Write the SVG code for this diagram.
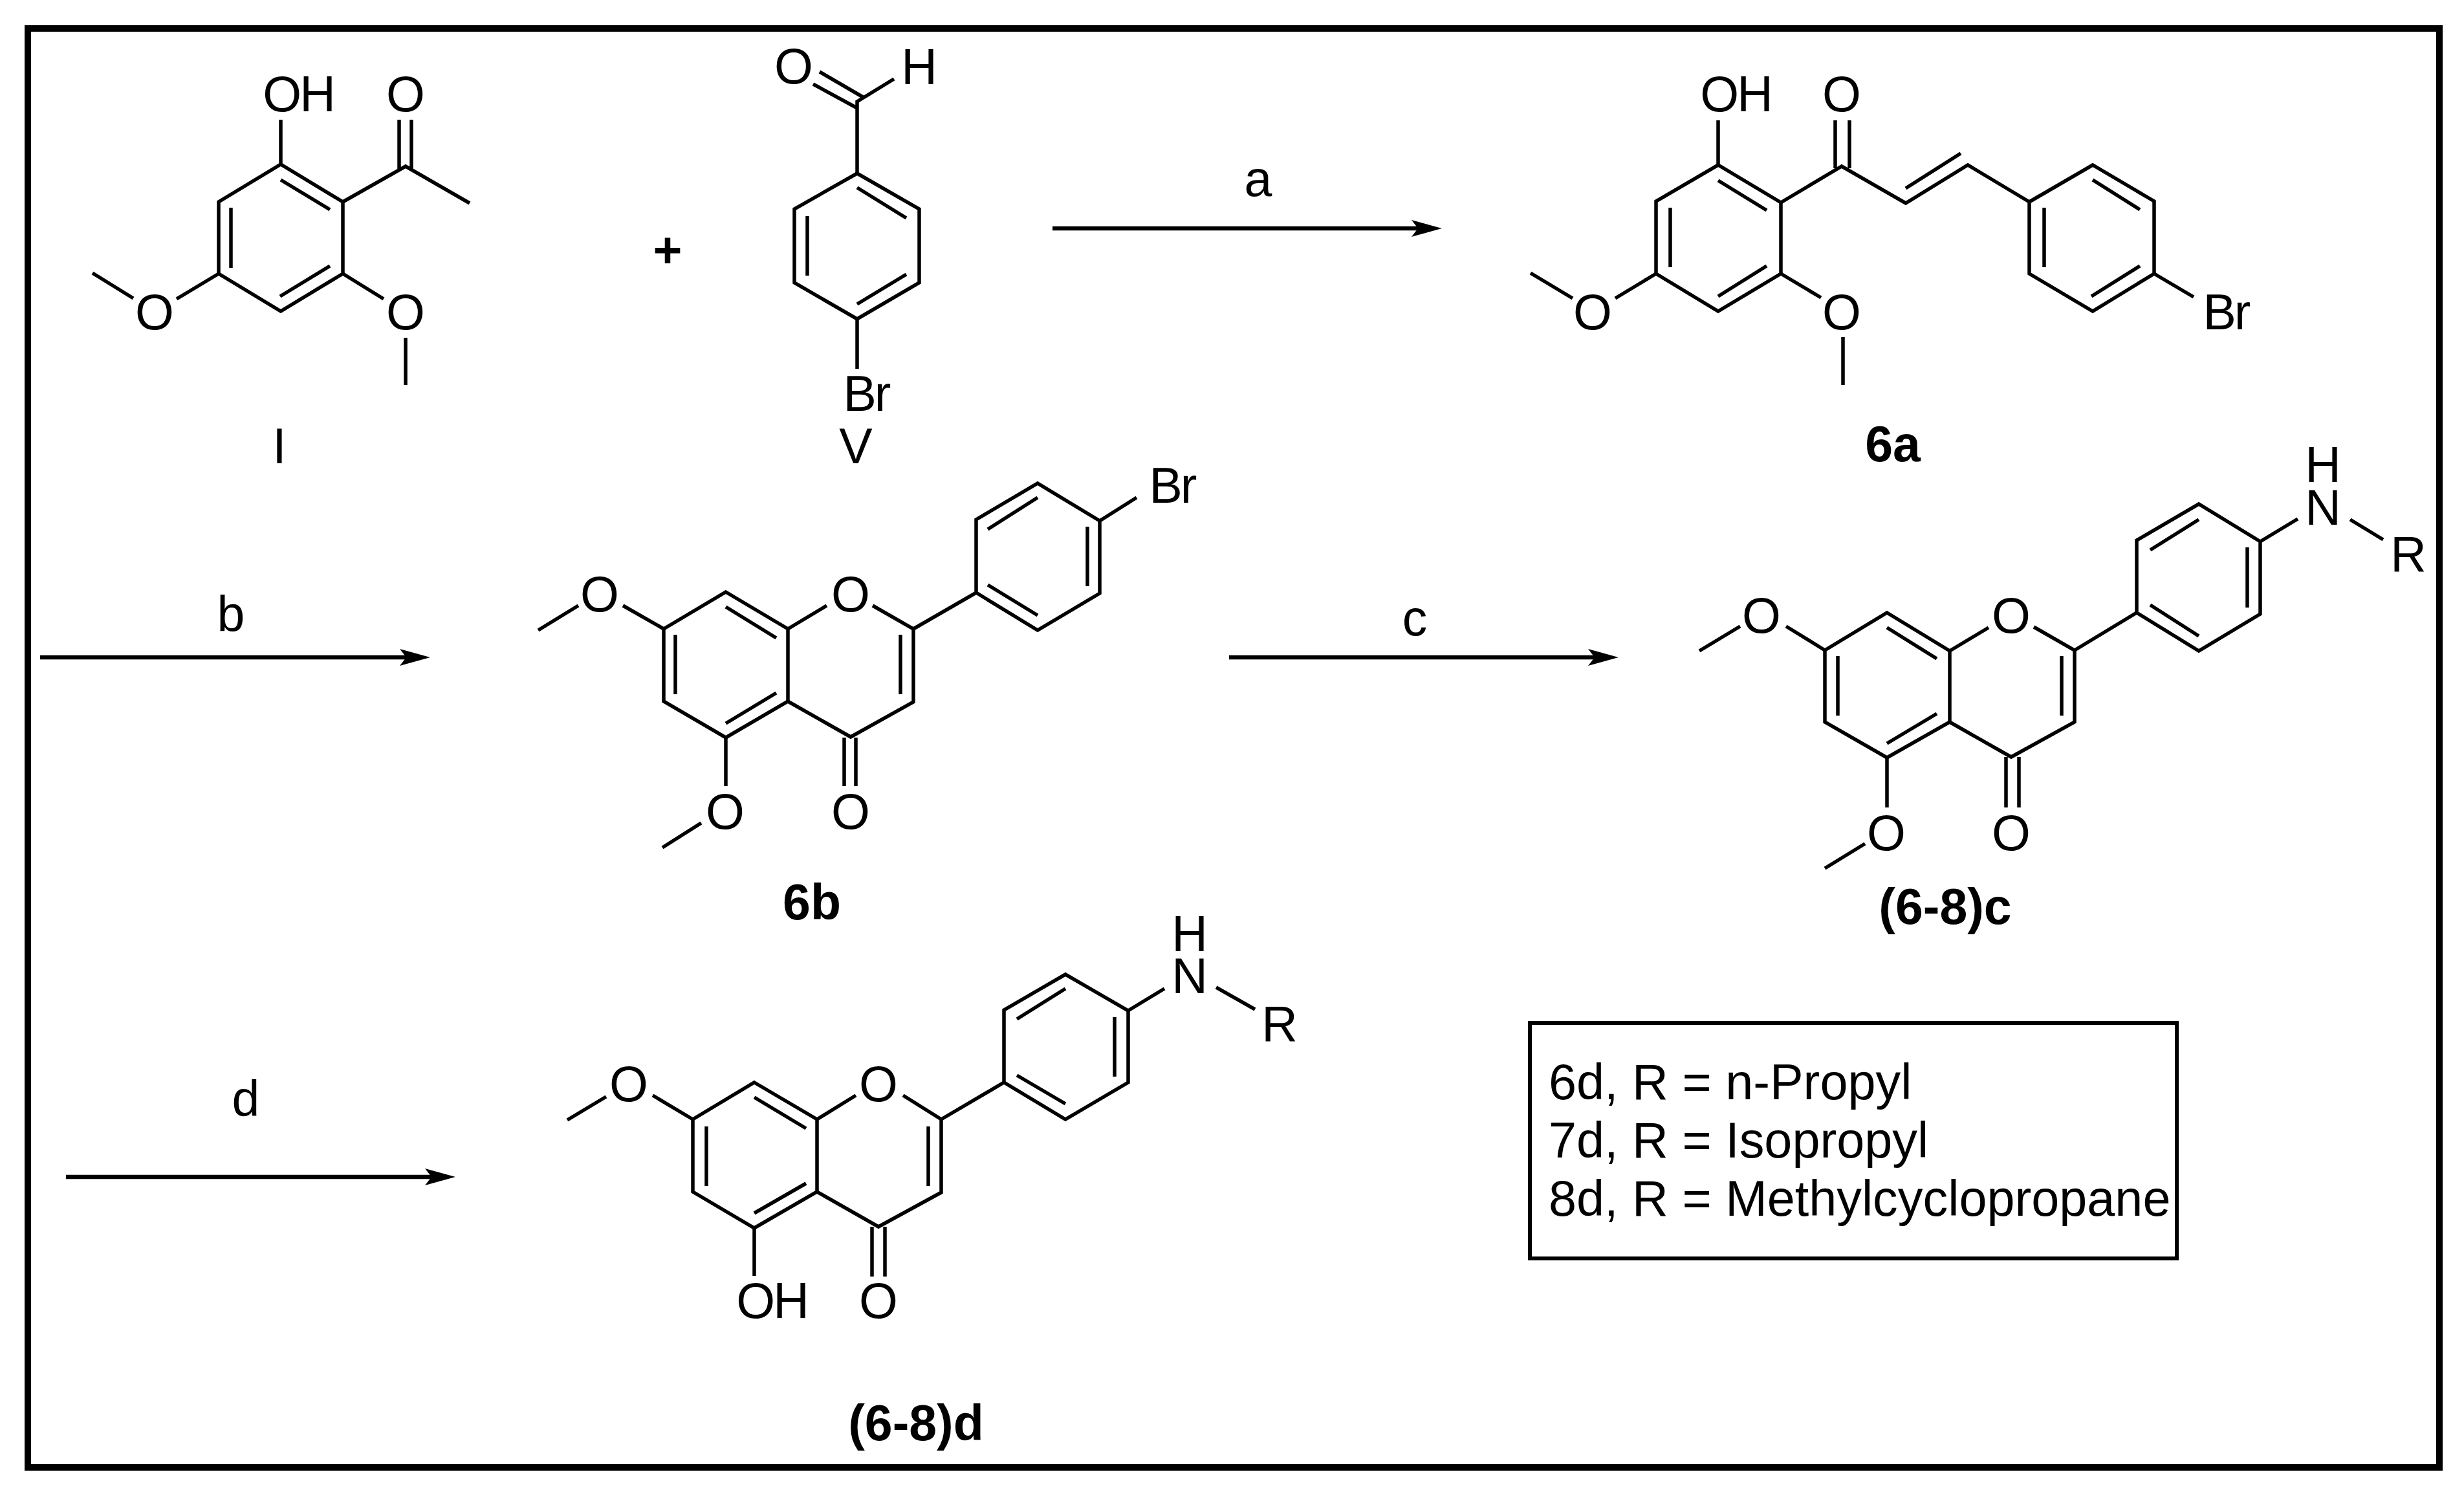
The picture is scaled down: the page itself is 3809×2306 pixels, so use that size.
<svg xmlns="http://www.w3.org/2000/svg" width="3809" height="2306" viewBox="0 0 3809 2306">
<style>
text{font-family:"Liberation Sans",Arial,sans-serif;font-size:77px;fill:#000;text-anchor:middle}
.s{text-anchor:start;font-size:77.4px}
.b{font-weight:700}
.n{letter-spacing:-3px}
.m path{fill:none;stroke:#000;stroke-width:5.5;stroke-linejoin:miter;stroke-linecap:butt}
.arrow{stroke:#000;stroke-width:6.5;fill:none;marker-end:url(#head)}
</style>
<defs>
<marker id="head" markerUnits="userSpaceOnUse" markerWidth="47" markerHeight="26" viewBox="0 0 47 26" refX="10" refY="13" orient="auto"><path d="M47 13L0 0L10 13L0 26Z" fill="#000"/></marker>
</defs>
<rect width="3809" height="2306" fill="#fff"/>
<rect id="frame" x="43" y="44" width="3728" height="2224" fill="none" stroke="#000" stroke-width="10"/>

<g id="connectors">
<line class="arrow" x1="1627" y1="353" x2="2192" y2="353"/>
<line class="arrow" x1="62" y1="1016" x2="628" y2="1016"/>
<line class="arrow" x1="1900" y1="1016" x2="2465" y2="1016"/>
<line class="arrow" x1="102" y1="1819" x2="667" y2="1819"/>
</g>
<g id="reagent-labels">
<text x="1945" y="303">a</text>
<text x="357" y="976">b</text>
<text x="2187" y="982">c</text>
<text x="380" y="1725">d</text>
<text class="b" x="1032" y="413">+</text>
</g>

<g id="mol-I" class="m">
<path d="M434 254L530 312V423L434 481L338 423V312Z"/>
<path d="M434 278L510 324M357 321V414M433 458L510 411"/>
<path d="M434 254V185M530 312L627 257L726 314M617 262V185M636 262V185"/>
<path d="M338 423L273 462M206 461L143 422M530 423L593 462M627 522V595"/>
<text class="n" x="461" y="172">OH</text><text x="627" y="172">O</text>
<text x="239" y="509">O</text><text x="627" y="509">O</text>
<text x="432" y="716">I</text>
</g>

<g id="mol-V" class="m">
<path d="M1325 268L1421 323V437L1325 493L1228 437V323Z"/>
<path d="M1325 290L1401 337M1248 334V426M1401 424L1325 470"/>
<path d="M1325 268V157L1382 122M1325 167L1257 130M1334 150L1267 111M1325 493V570"/>
<text x="1227" y="129">O</text><text x="1421" y="130">H</text>
<text class="n" x="1339" y="635">Br</text>
<text x="1323" y="716">V</text>
</g>

<g id="mol-6a" class="m">
<path d="M2656 255L2753 313V423L2656 481L2560 423V311Z"/>
<path d="M2656 279L2731 325M2582 321V413M2656 458L2731 411"/>
<path d="M2656 255V186M2753 313L2847 257L2946 314L3042 255L3137 312M2837 260V186M2859 260V186M2946 291L3031 237"/>
<path d="M3137 312L3235 255L3330 311V423L3235 481L3137 423Z"/>
<path d="M3235 278L3308 324M3160 321V413M3233 458L3308 411"/>
<path d="M3330 423L3391 459M2560 423L2497 461M2431 461L2366 422M2753 423L2815 460M2849 521V595"/>
<text class="n" x="2683" y="172">OH</text><text x="2847" y="172">O</text>
<text x="2462" y="509">O</text><text x="2847" y="509">O</text>
<text class="n" x="3441" y="509">Br</text>
<text class="b" x="2926" y="713">6a</text>
</g>

<g id="mol-6b" class="m">
<path d="M1122 915L1218 972V1084L1122 1140L1026 1084V972Z"/>
<path d="M1122 938L1200 986M1044 981V1073M1122 1118L1200 1071"/>
<path d="M1218 972L1278 936M1349 936L1412 972V1085L1315 1139L1218 1084M1392 981V1073"/>
<path d="M1412 972L1509 916L1604 974L1700 917V805L1604 747L1509 803V916"/>
<path d="M1527 904L1604 951M1681 814V906M1604 769L1527 818"/>
<path d="M1700 805L1757 769M1026 972L963 936M894 936L832 974M1122 1140V1215M1084 1272L1024 1310M1305 1140V1215M1323 1140V1215"/>
<text x="1315" y="945">O</text><text x="927" y="945">O</text>
<text x="1315" y="1281">O</text><text x="1121" y="1281">O</text>
<text class="n" x="1812" y="777">Br</text>
<text class="b" x="1255" y="1421">6b</text>
</g>

<g id="mol-6-8c" class="m">
<path d="M2917 947L3014 1006V1116L2917 1171L2821 1116V1005Z"/>
<path d="M2917 970L2994 1018M2841 1014V1106M2917 1149L2994 1103"/>
<path d="M3014 1006L3074 970M3144 969L3207 1005V1116L3109 1170L3014 1116M3187 1014V1106"/>
<path d="M3207 1005L3303 947L3399 1006L3494 949V837L3399 779L3303 835V947"/>
<path d="M3324 935L3399 983M3474 846V939M3399 803L3324 850"/>
<path d="M3494 837L3552 802M3633 803L3684 834M2821 1005L2761 968M2690 968L2627 1006M2917 1171V1248M2883 1304L2821 1342M3101 1170V1248M3121 1170V1248"/>
<text x="3109" y="978">O</text><text x="2723" y="978">O</text>
<text x="3109" y="1314">O</text><text x="2916" y="1314">O</text>
<text><tspan x="3591" y="745">H</tspan><tspan x="3591" y="811">N</tspan></text><text x="3723" y="883">R</text>
<text class="b" x="3007" y="1428">(6-8)c</text>
</g>

<g id="mol-6-8d" class="m">
<path d="M1166 1673L1263 1730V1842L1166 1898L1071 1842V1730Z"/>
<path d="M1166 1696L1246 1744M1092 1741V1833M1166 1875L1246 1829"/>
<path d="M1263 1730L1323 1693M1396 1693L1455 1730V1843L1358 1896L1263 1842M1435 1741V1833"/>
<path d="M1455 1730L1552 1673L1647 1730L1744 1673V1562L1647 1506L1552 1561V1673"/>
<path d="M1572 1662L1647 1706M1723 1572V1664M1647 1528L1572 1575"/>
<path d="M1744 1562L1800 1528M1880 1526L1940 1560M1071 1730L1009 1693M937 1695L877 1731M1166 1898V1972M1348 1896V1973M1368 1896V1973"/>
<text x="1358" y="1702">O</text><text x="972" y="1702">O</text>
<text x="1358" y="2037">O</text><text class="n" x="1193" y="2037">OH</text>
<text><tspan x="1839" y="1470">H</tspan><tspan x="1839" y="1535">N</tspan></text><text x="1978" y="1609">R</text>
<text class="b" x="1416" y="2226">(6-8)d</text>
</g>

<g id="legend">
<rect x="2365" y="1581" width="1000" height="364" fill="none" stroke="#000" stroke-width="6"/>
<text class="s" x="2394" y="1699">6d, R = n-Propyl</text>
<text class="s" x="2394" y="1789">7d, R = Isopropyl</text>
<text class="s" x="2394" y="1879">8d, R = Methylcyclopropane</text>
</g>
</svg>
